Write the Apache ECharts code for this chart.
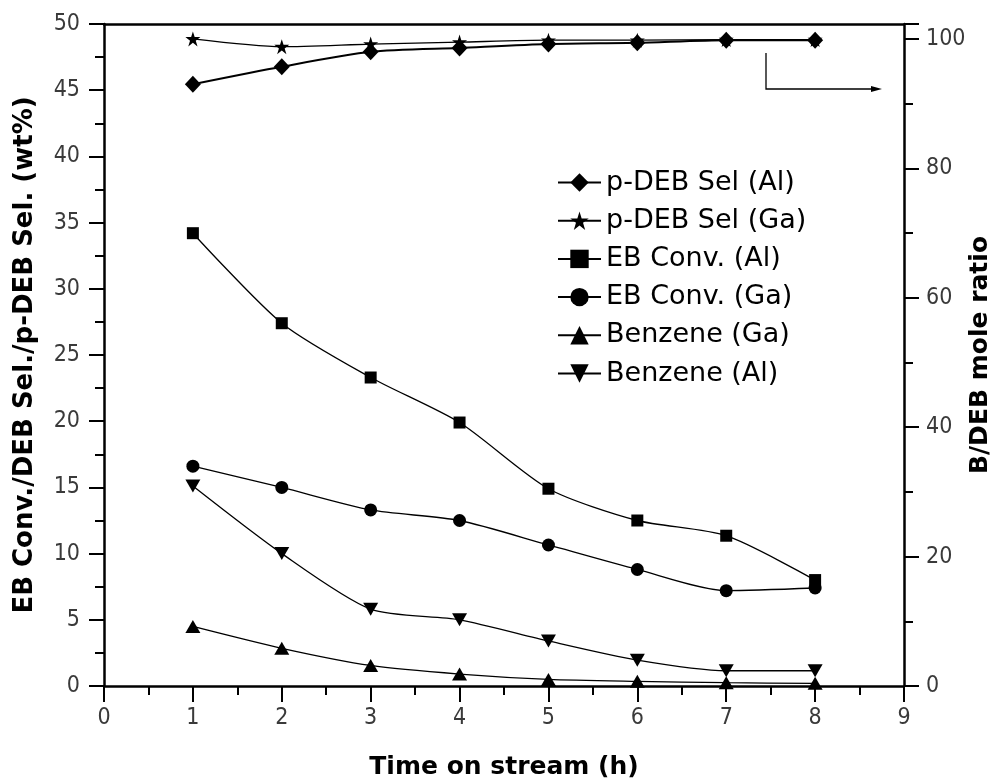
<!DOCTYPE html>
<html>
<head>
<meta charset="utf-8">
<script src="https://cdn.jsdelivr.net/npm/echarts@6/dist/echarts.min.js"></script>
<style>
  html, body { margin: 0; padding: 0; background: #ffffff; }
  #chart { width: 995px; height: 784px; }
</style>
</head>
<body>
<div id="chart"></div>
<script>
// Time on stream (h)
const hours = [1, 2, 3, 4, 5, 6, 7, 8];

// para-selectivity, read on the right-hand scale
const pdebSelAl = [93.0, 95.7, 98.0, 98.6, 99.2, 99.4, 99.8, 99.8];
const pdebSelGa = [100.0, 98.8, 99.2, 99.5, 99.8, 99.8, 99.9, 99.9];

// ethylbenzene conversion and benzene, left-hand scale (wt%)
const ebConvAl = [34.2, 27.4, 23.3, 19.9, 14.9, 12.5, 11.35, 8.0];
const ebConvGa = [16.6, 15.0, 13.3, 12.5, 10.65, 8.8, 7.2, 7.4];
const benzeneGa = [4.5, 2.85, 1.55, 0.9, 0.5, 0.35, 0.25, 0.2];
const benzeneAl = [15.1, 10.0, 5.8, 5.0, 3.4, 1.95, 1.15, 1.15];

// axis tick values
const xTicks = [0, 1, 2, 3, 4, 5, 6, 7, 8, 9];
const leftTicks = [0, 5, 10, 15, 20, 25, 30, 35, 40, 45, 50];
const rightTicks = [0, 20, 40, 60, 80, 100];

const pairs = (ys) => hours.map((h, i) => [h, ys[i]]);

const STAR = 'path://M50,0 L61.2,34.5 L97.6,34.5 L68.2,55.9 L79.4,90.5 L50,69.1 L20.6,90.5 L31.8,55.9 L2.4,34.5 L38.8,34.5 Z';

const tickFont = {
  color: '#3a3a3a',
  fontSize: 23,
  fontFamily: "'Liberation Sans Narrow', 'DejaVu Sans Condensed', 'Liberation Sans', sans-serif"
};
const titleFont = {
  color: '#000',
  fontSize: 25,
  fontWeight: 'bold',
  fontFamily: "'DejaVu Sans', sans-serif"
};
const axisLine = { show: true, onZero: false, lineStyle: { color: '#000', width: 2.5 } };

function lineSeries(name, ys, symbol, size, opts) {
  return Object.assign({
    name: name,
    type: 'line',
    data: pairs(ys),
    symbol: symbol,
    symbolSize: size,
    showSymbol: true,
    smooth: 0.25,
    lineStyle: { color: '#000', width: 1.3 },
    itemStyle: { color: '#000', borderWidth: 0 },
    emphasis: { disabled: true },
    z: 3
  }, opts || {});
}

const chart = echarts.init(document.getElementById('chart'), null, { renderer: 'canvas' });

chart.setOption({
  animation: false,
  backgroundColor: '#ffffff',
  grid: { left: 104, right: 91, top: 24, bottom: 98, containLabel: false, outerBoundsMode: 'none' },
  legend: {
    left: 557,
    top: 169,
    orient: 'vertical',
    padding: 0,
    itemWidth: 43,
    itemHeight: 23,
    itemGap: 11.2,
    lineStyle: { width: 2 },
    textStyle: {
      color: '#000',
      fontSize: 27,
      fontFamily: "'DejaVu Sans', sans-serif"
    },
    data: ['p-DEB Sel (Al)', 'p-DEB Sel (Ga)', 'EB Conv. (Al)', 'EB Conv. (Ga)', 'Benzene (Ga)', 'Benzene (Al)']
  },
  xAxis: [{
    type: 'value',
    min: xTicks[0],
    max: xTicks[xTicks.length - 1],
    interval: 1,
    name: 'Time on stream (h)',
    nameLocation: 'middle',
    nameGap: 69,
    nameMoveOverlap: false,
    nameTextStyle: titleFont,
    axisLine: axisLine,
    axisTick: { show: true, inside: false, length: 16, lineStyle: { color: '#000', width: 2 } },
    minorTick: { show: true, splitNumber: 2, length: 9, lineStyle: { color: '#000', width: 2 } },
    axisLabel: Object.assign({ margin: 21 }, tickFont),
    splitLine: { show: false }
  }, {
    type: 'value',
    position: 'top',
    min: 0,
    max: 9,
    axisLine: axisLine,
    axisTick: { show: false },
    axisLabel: { show: false },
    splitLine: { show: false }
  }],
  yAxis: [{
    type: 'value',
    position: 'left',
    min: leftTicks[0],
    max: leftTicks[leftTicks.length - 1],
    interval: 5,
    name: 'EB Conv./DEB Sel./p-DEB Sel. (wt%)',
    nameLocation: 'middle',
    nameGap: 66,
    nameMoveOverlap: false,
    nameTextStyle: Object.assign({}, titleFont, { fontSize: 26 }),
    axisLine: axisLine,
    axisTick: { show: true, inside: false, length: 15, lineStyle: { color: '#000', width: 2 } },
    minorTick: { show: true, splitNumber: 2, length: 9, lineStyle: { color: '#000', width: 2 } },
    axisLabel: Object.assign({ margin: 24 }, tickFont),
    splitLine: { show: false }
  }, {
    type: 'value',
    position: 'right',
    min: rightTicks[0],
    max: 102.3,
    interval: 20,
    name: 'B/DEB mole ratio',
    nameLocation: 'middle',
    nameGap: 64,
    nameMoveOverlap: false,
    nameTextStyle: titleFont,
    axisLine: axisLine,
    axisTick: { show: true, inside: false, length: 15, lineStyle: { color: '#000', width: 2 } },
    minorTick: { show: true, splitNumber: 2, length: 9, lineStyle: { color: '#000', width: 2 } },
    axisLabel: Object.assign({
      margin: 22,
      formatter: (v) => (rightTicks.indexOf(v) >= 0 ? String(v) : '')
    }, tickFont),
    splitLine: { show: false }
  }],
  series: [
    lineSeries('p-DEB Sel (Al)', pdebSelAl, 'diamond', [16, 17], { yAxisIndex: 1, lineStyle: { color: '#000', width: 2 }, z: 4 }),
    lineSeries('p-DEB Sel (Ga)', pdebSelGa, STAR, 15, { yAxisIndex: 1 }),
    lineSeries('EB Conv. (Al)', ebConvAl, 'rect', 12),
    lineSeries('EB Conv. (Ga)', ebConvGa, 'circle', 13),
    lineSeries('Benzene (Ga)', benzeneGa, 'triangle', [15, 13]),
    lineSeries('Benzene (Al)', benzeneAl, 'triangle', [15, 13], { symbolRotate: 180 })
  ],
  graphic: [{
    // pointer telling which curves are read on the right-hand scale
    type: 'polyline',
    shape: { points: [[766, 53], [766, 89], [874, 89]] },
    style: { stroke: '#000', lineWidth: 1.3, fill: null }
  }, {
    type: 'polygon',
    shape: { points: [[871, 86], [882, 89], [871, 92]] },
    style: { fill: '#000' }
  }]
});
</script>
</body>
</html>
